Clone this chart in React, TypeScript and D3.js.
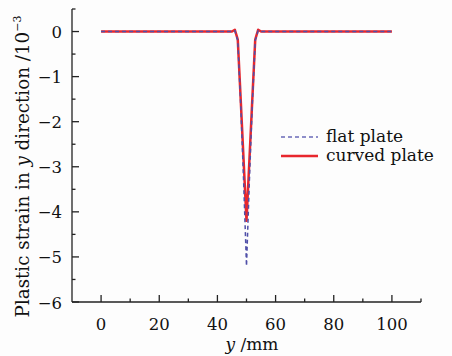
import React from "react";
import * as d3 from "d3";

const yPos = [0, 45, 46, 47, 48, 49, 50, 51, 52, 53, 54, 55, 100];
const flatPlate = [0, 0, 0.02, -0.2, -1.6, -3.3, -5.2, -3.3, -1.6, -0.2, 0.02, 0, 0];
const curvedPlate = [0, 0, 0.04, -0.18, -1.5, -2.85, -4.2, -2.85, -1.5, -0.18, 0.04, 0, 0];
const xTicks = [0, 20, 40, 60, 80, 100];
const xMinor = [10, 30, 50, 70, 90, 110];
const yTicks = [0, -1, -2, -3, -4, -5, -6];
const yMinor = [0.5, -0.5, -1.5, -2.5, -3.5, -4.5, -5.5];

const W = 452, H = 356;
const FONT = "'DejaVu Serif', serif";

export default function App() {
  const x = d3.scaleLinear().domain([-10, 110]).range([72, 421]);
  const y = d3.scaleLinear().domain([-6, 0.5]).range([302, 9]);
  const line = d3.line<number>().x((_, i) => x(yPos[i])).y((d) => y(d));
  const axisColor = "#222";
  return (
    <svg width={W} height={H} style={{ position: "absolute", left: 0, top: 0, background: "#fdfdfd" }}>
      <rect width={W} height={H} fill="#fdfdfd" />
      {/* axes */}
      <line x1={x(-10)} x2={x(-10)} y1={y(0.5)} y2={y(-6)} stroke={axisColor} strokeWidth={1.3} />
      <line x1={x(-10)} x2={x(110)} y1={y(-6)} y2={y(-6)} stroke={axisColor} strokeWidth={1.3} />
      {xTicks.map((t) => (
        <g key={"xt" + t}>
          <line x1={x(t)} x2={x(t)} y1={y(-6)} y2={y(-6) - 7} stroke={axisColor} strokeWidth={1.3} />
          <text x={x(t)} y={y(-6) + 28} textAnchor="middle" fontFamily={FONT} fontSize={16.5} fill="#111">{t}</text>
        </g>
      ))}
      {xMinor.map((t) => (
        <line key={"xm" + t} x1={x(t)} x2={x(t)} y1={y(-6)} y2={y(-6) - 3.5} stroke={axisColor} strokeWidth={1.3} />
      ))}
      {yTicks.map((t) => (
        <g key={"yt" + t}>
          <line x1={x(-10)} x2={x(-10) + 7} y1={y(t)} y2={y(t)} stroke={axisColor} strokeWidth={1.3} />
          <text x={x(-10) - 10} y={y(t) + 6.5} textAnchor="end" fontFamily={FONT} fontSize={16.5} fill="#111">{t === 0 ? "0" : "\u2212" + Math.abs(t)}</text>
        </g>
      ))}
      {yMinor.map((t) => (
        <line key={"ym" + t} x1={x(-10)} x2={x(-10) + 3.5} y1={y(t)} y2={y(t)} stroke={axisColor} strokeWidth={1.3} />
      ))}
      {/* axis titles */}
      <text x={252} y={350} textAnchor="middle" fontFamily={FONT} fontSize={17} fill="#111">
        <tspan fontStyle="italic">y</tspan> /mm
      </text>
      <text transform={`translate(29,${(5 + 328) / 2}) rotate(-90)`} textAnchor="middle" fontFamily={FONT} fontSize={18.3} fill="#111">
        Plastic strain in <tspan fontStyle="italic">y</tspan> direction /10<tspan dy={-8} fontSize={11}>{"\u22123"}</tspan>
      </text>
      {/* data */}
      <path d={line(curvedPlate) || ""} fill="none" stroke="#e8272d" strokeWidth={2.5} strokeLinejoin="round" />
      <path d={line(flatPlate) || ""} fill="none" stroke="#4f4fa8" strokeWidth={1.5} strokeDasharray="4,3" />
      {/* legend */}
      <line x1={281} x2={318} y1={137} y2={137} stroke="#6a6ab8" strokeWidth={1.5} strokeDasharray="4,3" />
      <text x={326} y={142} fontFamily={FONT} fontSize={17} fill="#111">flat plate</text>
      <line x1={281} x2={318} y1={156} y2={156} stroke="#e8272d" strokeWidth={2.5} />
      <text x={326} y={161} fontFamily={FONT} fontSize={17} fill="#111">curved plate</text>
    </svg>
  );
}
